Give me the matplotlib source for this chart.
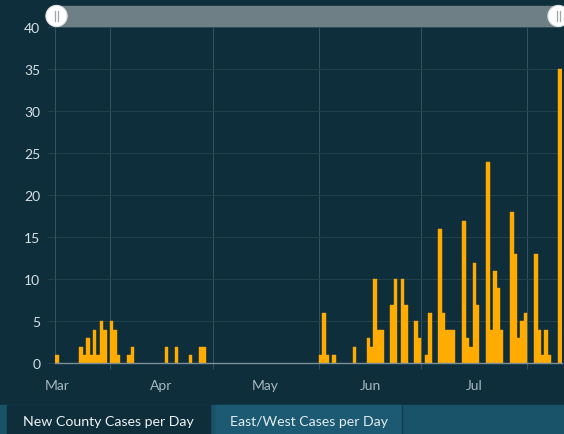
import matplotlib
matplotlib.use("Agg")
import matplotlib.pyplot as plt
import matplotlib.dates as mdates
from matplotlib.patches import Rectangle, Circle
import pandas as pd

# ---- data ----
dates = ["2020-03-16", "2020-03-23", "2020-03-24", "2020-03-25", "2020-03-26", "2020-03-27",
         "2020-03-28", "2020-03-29", "2020-03-30", "2020-04-01", "2020-04-02", "2020-04-03",
         "2020-04-06", "2020-04-07", "2020-04-17", "2020-04-20", "2020-04-24", "2020-04-27",
         "2020-04-28", "2020-06-01", "2020-06-02", "2020-06-03", "2020-06-05", "2020-06-11",
         "2020-06-15", "2020-06-16", "2020-06-17", "2020-06-18", "2020-06-19", "2020-06-22",
         "2020-06-23", "2020-06-25", "2020-06-26", "2020-06-29", "2020-06-30", "2020-07-02",
         "2020-07-03", "2020-07-06", "2020-07-07", "2020-07-08", "2020-07-09", "2020-07-10",
         "2020-07-13", "2020-07-14", "2020-07-15", "2020-07-16", "2020-07-17", "2020-07-20",
         "2020-07-21", "2020-07-22", "2020-07-23", "2020-07-24", "2020-07-27", "2020-07-28",
         "2020-07-29", "2020-07-30", "2020-07-31", "2020-08-03", "2020-08-04", "2020-08-05",
         "2020-08-06", "2020-08-07", "2020-08-10"]
cases = [1, 2, 1, 3, 1, 4,
         1, 5, 4, 5, 4, 1,
         1, 2, 2, 2, 1, 2,
         2, 1, 6, 1, 1, 2,
         3, 2, 10, 4, 4, 7,
         10, 10, 7, 5, 3, 1,
         6, 16, 6, 4, 4, 4,
         17, 3, 2, 12, 7, 24,
         4, 11, 9, 4, 18, 13,
         3, 5, 6, 13, 4, 1,
         4, 1, 35]
month_starts = ["2020-03-01", "2020-04-01", "2020-05-01", "2020-06-01", "2020-07-01"]
month_labels = ["Mar", "Apr", "May", "Jun", "Jul"]
y_ticks = [0, 5, 10, 15, 20, 25, 30, 35, 40]
tab_labels = ["New County Cases per Day", "East/West Cases per Day"]
x_start, x_end = "2020-03-16", "2020-08-11"

# ---- style ----
BG = "#0e2e3b"
BAR = "#FFAB00"
VGRID = "#34515c"
HGRID = "#21404c"
AXIS = "#7d9098"
YLAB = "#d8e0e3"
XLAB = "#a9b8be"
FONT = ["Lato", "DejaVu Sans"]
plt.rcParams["font.family"] = FONT

W, H = 564, 435
fig = plt.figure(figsize=(W / 100, H / 100), dpi=100, facecolor=BG)

left_px, right_px, bottom_px, top_px = 55.3, 561.5, 364.3, 28.3
ax = fig.add_axes([left_px / W, (H - bottom_px) / H, (right_px - left_px) / W, (bottom_px - top_px) / H])
ax.set_facecolor(BG)

d = pd.to_datetime(dates)
ax.bar(d, cases, width=1.0, align="edge", color=BAR, edgecolor=BAR, linewidth=0.3, zorder=3)

ax.set_xlim(pd.Timestamp(x_start), pd.Timestamp(x_end))
ax.set_ylim(0, 40)

# y axis
ax.set_yticks(y_ticks)
ax.tick_params(axis="y", which="major", length=5.8, width=0.8, color=HGRID, pad=5,
               labelcolor=YLAB, labelsize=10)
ax.grid(axis="y", color=HGRID, linewidth=0.8, zorder=1)

# x axis: labels at month centres, grid at month boundaries
ms = pd.to_datetime(month_starts)
centres = [m + pd.Timedelta(days=m.days_in_month / 2) for m in ms]
ax.set_xticks(centres)
ax.set_xticklabels(month_labels)
ax.tick_params(axis="x", which="major", length=0, pad=11, labelcolor=XLAB, labelsize=10)
ax.xaxis.set_minor_locator(mdates.MonthLocator())
ax.tick_params(axis="x", which="minor", length=4.5, width=0.8, color=VGRID)
ax.grid(axis="x", which="minor", color=VGRID, linewidth=0.8, zorder=1)

for s in ["top", "right"]:
    ax.spines[s].set_visible(False)
ax.spines["left"].set_color(VGRID)
ax.spines["left"].set_linewidth(0.8)
ax.spines["bottom"].set_color(AXIS)
ax.spines["bottom"].set_linewidth(1.0)
ax.spines["bottom"].set_zorder(4)

# ---- overlay: scrollbar + tabs ----
ov = fig.add_axes([0, 0, 1, 1], zorder=5)
ov.set_xlim(0, W)
ov.set_ylim(H, 0)
ov.axis("off")
ov.patch.set_alpha(0)

ov.add_patch(Rectangle((57, 7.3), 501, 19.5, color="#6e7f86", zorder=1))
for cx in (56.5, 558.5):
    ov.add_patch(Circle((cx, 17), 10.6, facecolor="white", edgecolor="#dfe4e6", linewidth=0.8, zorder=2))
    for dx in (-1.6, 1.6):
        ov.plot([cx + dx, cx + dx], [12, 22], color="#9aa6ab", linewidth=0.9, zorder=3)

# tab strip
ov.add_patch(Rectangle((0, 406), W, 29, color="#195369", zorder=1))
ov.add_patch(Rectangle((7, 406), 203, 29, color=BG, zorder=2))
ov.add_patch(Rectangle((216, 406), 186, 29, color="#1b5a72", zorder=2))
ov.plot([402, 402], [406, 435], color="#123d4e", linewidth=1, zorder=3)
ov.text(23, 422, tab_labels[0], color="#eef3f5", fontsize=10.2, va="center", ha="left", zorder=4)
ov.text(230, 422, tab_labels[1], color="#e4ecef", fontsize=10.2, va="center", ha="left", zorder=4)

fig.savefig("out.png", dpi=100, facecolor=BG)
